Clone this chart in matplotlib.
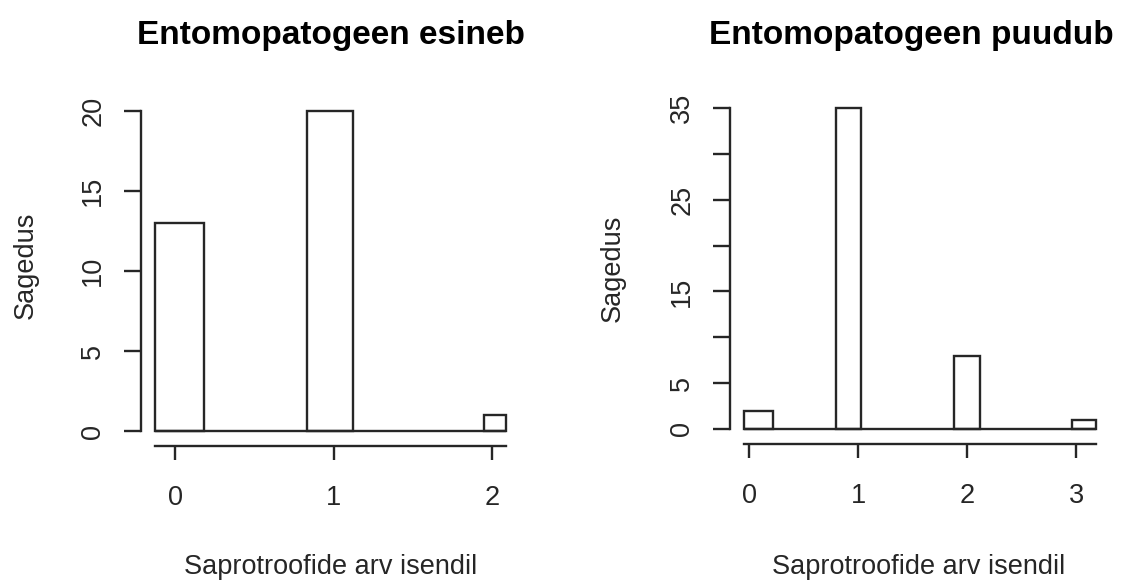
import matplotlib
matplotlib.use("Agg")
import matplotlib.pyplot as plt

plt.rcParams['font.family'] = ['Liberation Sans', 'DejaVu Sans']

# histogram of the number of saprotrophs per individual
left_title = 'Entomopatogeen esineb'
left_counts = [13, 20, 1]
left_bin_lo = [-0.13, 0.83, 1.95]
left_bin_hi = [0.18, 1.12, 2.09]
left_xticks = [0, 1, 2]
left_yticks = [0, 5, 10, 15, 20]
left_ylabels = ['0', '5', '10', '15', '20']

right_title = 'Entomopatogeen puudub'
right_counts = [2, 35, 8, 1]
right_bin_lo = [-0.05, 0.80, 1.88, 2.96]
right_bin_hi = [0.22, 1.03, 2.12, 3.18]
right_xticks = [0, 1, 2, 3]
right_yticks = [0, 5, 10, 15, 20, 25, 30, 35]
right_ylabels = ['0', '5', '', '15', '', '25', '', '35']

x_label = 'Saprotroofide arv isendil'
y_label = 'Sagedus'

W, H = 1134, 584
INK = '#262626'
LW = 1.7

fig = plt.figure(figsize=(W / 100, H / 100), dpi=100)


def px_axes(x0, x1, y0, y1):
    # axes box given in pixel coordinates (y from the top)
    return fig.add_axes([x0 / W, 1 - y1 / H, (x1 - x0) / W, (y1 - y0) / H])


def draw_hist(ax, lo, hi, counts, xticks, yticks, ylabels):
    widths = [h - l for l, h in zip(lo, hi)]
    ax.bar(lo, counts, width=widths, align='edge', fill=False,
           edgecolor=INK, linewidth=LW, clip_on=False)
    ax.hlines(0, lo[0], hi[-1], color=INK, linewidth=LW)

    for s in ['top', 'right']:
        ax.spines[s].set_visible(False)
    for s in ['left', 'bottom']:
        ax.spines[s].set_color(INK)
        ax.spines[s].set_linewidth(LW)
    ax.spines['left'].set_bounds(yticks[0], yticks[-1])
    ax.spines['bottom'].set_bounds(lo[0], hi[-1])

    ax.set_xticks(xticks)
    ax.set_xticklabels([str(t) for t in xticks])
    ax.set_yticks(yticks)
    ax.set_yticklabels(ylabels, rotation=90, va='center')
    ax.tick_params(axis='x', length=10, width=LW, color=INK, labelsize=19.5,
                   labelcolor=INK, pad=18)
    ax.tick_params(axis='y', length=12, width=LW, color=INK, labelsize=19.5,
                   labelcolor=INK, pad=13)
    ax.patch.set_alpha(0)


# left panel
ax1 = px_axes(141, 521, 100, 446)
draw_hist(ax1, left_bin_lo, left_bin_hi, left_counts,
          left_xticks, left_yticks, left_ylabels)
ax1.set_xlim(-0.2158, 2.1817)
ax1.set_ylim(-0.9375, 20.69)

# right panel
ax2 = px_axes(730, 1100, 100, 444)
draw_hist(ax2, right_bin_lo, right_bin_hi, right_counts,
          right_xticks, right_yticks, right_ylabels)
ax2.set_xlim(-0.175, 3.216)
ax2.set_ylim(-1.636, 35.88)

# titles and axis labels
fig.text(331 / W, 1 - 44 / H, left_title, ha='center', va='baseline',
         fontsize=24, fontweight='bold', color='black')
fig.text(911 / W, 1 - 44 / H, right_title, ha='center', va='baseline',
         fontsize=24, fontweight='bold', color='black')
fig.text(331 / W, 1 - 574 / H, x_label, ha='center', va='baseline',
         fontsize=19.5, color=INK)
fig.text(919 / W, 1 - 574 / H, x_label, ha='center', va='baseline',
         fontsize=19.5, color=INK)
fig.text(26 / W, 1 - 265 / H, y_label, ha='center', va='center',
         rotation=90, fontsize=19.5, color=INK)
fig.text(613 / W, 1 - 268 / H, y_label, ha='center', va='center',
         rotation=90, fontsize=19.5, color=INK)

fig.savefig('out.png', dpi=100, facecolor='white')
